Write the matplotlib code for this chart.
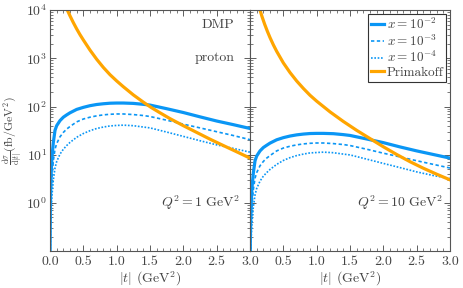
import matplotlib
matplotlib.use('Agg')
import matplotlib.pyplot as plt
from matplotlib.ticker import LogLocator, MultipleLocator, NullFormatter

plt.rcParams['font.family'] = 'serif'
plt.rcParams['font.serif'] = ['cmr10', 'DejaVu Serif']
plt.rcParams['mathtext.fontset'] = 'cm'
plt.rcParams['axes.formatter.use_mathtext'] = True

t = [0.001, 0.002, 0.005, 0.01, 0.02, 0.03, 0.05, 0.075, 0.1, 0.15, 0.2, 0.25,
     0.3, 0.4, 0.5, 0.6, 0.7, 0.8, 0.9, 1.0, 1.1, 1.25, 1.4, 1.5, 1.75, 2.0,
     2.25, 2.5, 2.75, 3.0]

# Q^2 = 1 GeV^2
q1_x2 = [0.076, 0.2, 0.72, 1.9, 5.0, 9.0, 18, 32, 40, 51, 60, 67, 74, 87, 96,
         104, 110, 114, 117, 118, 118, 116, 111, 107, 90, 75, 61, 50, 42, 35]
q1_x3 = [0.03, 0.08, 0.28, 0.75, 2.0, 3.6, 7.5, 13, 17, 23.5, 29, 34, 38.5, 48,
         55, 60, 64, 67, 69, 70, 70, 68, 65, 62, 52, 43, 36, 30, 25, 20.5]
q1_x4 = [0.012, 0.03, 0.11, 0.3, 0.8, 1.45, 3.0, 5.3, 7.2, 10.3, 13, 15.5, 18,
         23, 27.5, 31.5, 35, 37.5, 39.5, 40.5, 41, 40, 37.5, 36, 29.5, 24, 19.5,
         16, 13.5, 11.3]
t_prim1 = [0.26, 0.3, 0.35, 0.4, 0.45, 0.5, 0.6, 0.7, 0.8, 0.9, 1.0, 1.1, 1.25,
           1.4, 1.52, 1.65, 1.8, 2.0, 2.2, 2.4, 2.6, 2.8, 3.0]
prim1 = [10000, 7586, 5495, 4074, 3090, 2399, 1479, 955, 646, 457, 339, 257,
         174, 123, 95, 74, 56, 40, 29, 21, 15.5, 11.5, 8.5]

# Q^2 = 10 GeV^2
q10_x2 = [0.018, 0.047, 0.17, 0.45, 1.18, 2.1, 4.2, 7.5, 9.4, 12, 14.1, 15.7,
          17.4, 20.4, 22.6, 24.4, 25.8, 26.8, 27.5, 27.7, 27.7, 27.3, 26.1,
          25.1, 21.2, 17.8, 14.5, 12.0, 10.1, 8.5]
q10_x3 = [0.0075, 0.02, 0.07, 0.19, 0.5, 0.9, 1.9, 3.25, 4.25, 5.9, 7.25, 8.5,
          9.6, 12, 13.75, 15, 16, 16.75, 17.25, 17.5, 17.5, 17, 16.25, 15.5, 13,
          10.75, 9, 7.5, 6.3, 5.3]
q10_x4 = [0.0033, 0.008, 0.03, 0.083, 0.22, 0.4, 0.83, 1.46, 2.0, 2.83, 3.6,
          4.26, 4.95, 6.3, 7.6, 8.7, 9.6, 10.3, 10.9, 11.1, 11.3, 11.0, 10.3,
          9.9, 8.1, 6.6, 5.4, 4.4, 3.7, 3.2]
t_prim10 = [0.15, 0.18, 0.22, 0.26, 0.3, 0.35, 0.4, 0.5, 0.6, 0.7, 0.8, 0.9,
            1.0, 1.2, 1.4, 1.6, 1.8, 2.0, 2.2, 2.4, 2.6, 2.8, 3.0]
prim10 = [10000, 7328, 5070, 3639, 2685, 1901, 1393, 802, 506, 338, 237, 171,
          129, 77.4, 48.9, 32.0, 21.6, 14.6, 10.1, 7.16, 5.24, 3.94, 3.01]

labels = [r'$x=10^{-2}$', r'$x=10^{-3}$', r'$x=10^{-4}$', 'Primakoff']
q2_text = [r'$Q^2=1\ \mathrm{GeV}^2$', r'$Q^2=10\ \mathrm{GeV}^2$']

blue = '#0a96f5'
orange = '#ffa500'
grey = '#444444'

fig = plt.figure(figsize=(4.63, 2.88), dpi=100)
ax1 = fig.add_axes([0.108, 0.128, 0.432, 0.837])
ax2 = fig.add_axes([0.540, 0.128, 0.432, 0.837])

panels = [(ax1, q1_x2, q1_x3, q1_x4, t_prim1, prim1),
          (ax2, q10_x2, q10_x3, q10_x4, t_prim10, prim10)]

for i, (ax, s2, s3, s4, tp, pr) in enumerate(panels):
    ax.plot(t, s2, color=blue, lw=2.3, label=labels[0])
    ax.plot(t, s3, color=blue, lw=1.2, ls=(0, (2, 1.5)), label=labels[1])
    ax.plot(t, s4, color=blue, lw=1.2, ls=(0, (1, 1)), label=labels[2])
    ax.plot(tp, pr, color=orange, lw=2.3, label=labels[3])
    ax.set_yscale('log')
    ax.set_xlim(0, 3)
    ax.set_ylim(0.1, 1e4)
    ax.set_yticks([1, 10, 100, 1000, 10000])
    ax.yaxis.set_minor_locator(LogLocator(base=10, subs=range(2, 10), numticks=10))
    ax.yaxis.set_minor_formatter(NullFormatter())
    ax.xaxis.set_minor_locator(MultipleLocator(0.1))
    ax.tick_params(which='both', direction='in', top=True, right=True,
                   labelsize=10, colors=grey, labelcolor=grey)
    ax.tick_params(which='major', length=4, width=0.6)
    ax.tick_params(which='minor', length=2, width=0.5)
    ax.tick_params(axis='y', pad=2)
    for sp in ax.spines.values():
        sp.set_color('#555555')
        sp.set_linewidth(0.8)
    ax.set_xlabel(r'$|t|$ (GeV$^2$)', fontsize=10, color=grey, labelpad=1)
    ax.text(0.95 if i == 0 else 0.965, 0.2, q2_text[i], transform=ax.transAxes,
            ha='right', va='center', fontsize=10, color=grey)

ax1.set_xticks([0, 0.5, 1.0, 1.5, 2.0, 2.5, 3.0])
ax1.set_xticklabels(['0.0', '0.5', '1.0', '1.5', '2.0', '2.5', '3.0'])
ax2.set_xticks([0.5, 1.0, 1.5, 2.0, 2.5, 3.0])
ax2.set_xticklabels(['0.5', '1.0', '1.5', '2.0', '2.5', '3.0'])
ax2.tick_params(labelleft=False)

ax1.set_ylabel(r'$\frac{\mathrm{d}\sigma}{\mathrm{d}|t|}(\mathrm{fb}/\mathrm{GeV}^2)$',
               fontsize=8.5, color=grey)
ax1.yaxis.set_label_coords(-0.128, 0.5)
ax1.text(0.92, 0.938, 'DMP', transform=ax1.transAxes, ha='right', va='center',
         fontsize=10, color=grey)
ax1.text(0.925, 0.80, 'proton', transform=ax1.transAxes, ha='right', va='center',
         fontsize=10, color=grey)

leg = ax2.legend(loc='upper right', fontsize=9.5, handlelength=1.0,
                 handletextpad=0.2, labelspacing=0.1, borderpad=0.2,
                 borderaxespad=0.3, fancybox=False, framealpha=1)
leg.get_frame().set_edgecolor('#333333')
leg.get_frame().set_linewidth(0.8)
for txt in leg.get_texts():
    txt.set_color(grey)

fig.savefig('out.png', dpi=100)
